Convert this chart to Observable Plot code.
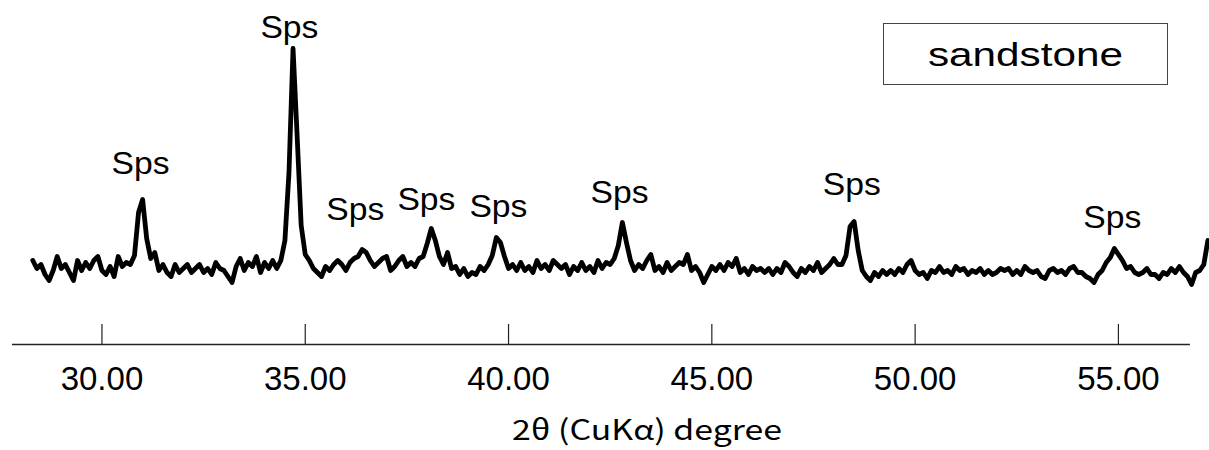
<!DOCTYPE html>
<html><head><meta charset="utf-8">
<script src="https://cdn.jsdelivr.net/npm/d3@7"></script>
<script src="https://cdn.jsdelivr.net/npm/@observablehq/plot@0.6"></script>
<style>
body{margin:0;background:#fff;}
#wrap{position:relative;width:1209px;height:450px;overflow:hidden;}
#legend{position:absolute;left:883px;top:23px;width:285px;height:62px;box-sizing:border-box;border:1.5px solid #444;display:flex;align-items:center;justify-content:center;font-family:"Liberation Sans",Arial,sans-serif;font-size:34px;color:#000;background:#fff;z-index:2;}
#legend span{display:inline-block;transform-origin:center;line-height:1;}
</style></head><body><div id="wrap"></div>
<script>
// ---- data ----
const angleStart = 28.3;   // 2θ of first sample (deg)
const angleStep = 0.1;     // measurement step (deg)
const intensity = [
84,76,80,70,64,74,88,76,80,72,64,84,74,82,76,84,88,74,70,78,
68,88,78,82,80,89,132,145,106,86,92,74,80,72,68,80,72,76,80,72,
76,80,72,76,70,82,76,74,68,62,78,86,74,82,78,88,72,82,76,84,
76,84,104,172,296,209,119,90,84,76,72,68,78,74,80,84,80,74,82,86,
88,95,92,84,78,82,86,88,74,78,84,88,78,82,78,86,88,101,116,104,
88,80,92,76,78,70,76,68,72,70,78,74,80,89,107,102,88,76,80,74,
82,74,78,72,84,76,80,74,84,80,76,80,70,78,74,82,74,78,72,84,
76,82,80,86,99,122,102,84,74,80,76,84,90,74,78,72,82,74,78,82,
80,90,74,78,72,62,70,78,74,80,74,82,78,86,72,76,70,78,74,76,
72,76,70,76,72,82,78,72,68,76,72,78,74,82,72,76,80,86,80,80,
89,118,123,94,74,68,64,72,68,74,70,74,70,76,72,80,84,74,70,72,
66,74,72,78,72,74,70,78,74,76,70,74,72,76,70,74,70,72,76,74,
76,70,74,70,78,74,72,74,68,66,74,76,72,74,70,76,78,72,72,68,
66,62,70,74,82,87,96,90,84,76,78,72,70,72,76,70,70,66,72,70,
76,72,78,72,68,60,72,74,80,104
];
const peakAngles = [30.95, 34.61, 36.23, 37.98, 39.75, 42.73, 48.44, 54.85];
const peakLabelHeights = [180, 316, 134, 144, 137, 151, 159, 126];
const peakLabel = "Sps";
const tickValues = [30, 35, 40, 45, 50, 55];
const axisExtent = [27.8, 56.77];
const xDomain = [27.8, 57.24];
const yDomain = [0, 344];
const xLabel = "2θ (CuKα) degree";
const sampleName = "sandstone";

// ---- build ----
const pattern = intensity.map((v, i) => ({angle: +(angleStart + i * angleStep).toFixed(2), intensity: v}));
const labels = peakAngles.map((a, i) => ({angle: a, h: peakLabelHeights[i], text: peakLabel}));

const chart = Plot.plot({
  width: 1209,
  height: 450,
  marginLeft: 12,
  marginRight: 0,
  marginTop: 0,
  marginBottom: 106,
  style: {fontFamily: "'Liberation Sans', Arial, sans-serif", color: "#000", background: "#fff"},
  x: {domain: xDomain},
  y: {domain: yDomain, axis: null},
  marks: [
    Plot.ruleY([0], {x1: axisExtent[0], x2: axisExtent[1], stroke: "#222", strokeWidth: 1.5}),
    Plot.ruleX(tickValues, {x: d => d, y1: 0, y2: 20, stroke: "#222", strokeWidth: 1.2}),
    Plot.axisX(tickValues, {anchor: "bottom", tickSize: 0, tickPadding: 22, fontSize: 33, tickFormat: d3.format(".2f"), label: null, fill: "#000"}),
    Plot.line(pattern, {x: "angle", y: "intensity", stroke: "#000", strokeWidth: 4.8, strokeLinejoin: "round", strokeLinecap: "round"}),
    Plot.text(labels, {x: "angle", y: "h", text: "text", fontSize: 31, lineAnchor: "middle", fill: "#000"}),
    Plot.text([xLabel], {frameAnchor: "bottom", text: d => d, dx: 36, dy: 87, lineAnchor: "middle", fontSize: 28, fontFamily: "'Noto Sans CJK JP', sans-serif", fill: "#000"})
  ]
});

const wrap = document.getElementById("wrap");
wrap.appendChild(chart);
d3.select(chart).selectAll("text").each(function() {
  const t = this.textContent;
  if (t === peakLabel) { this.setAttribute("textLength", 58); this.setAttribute("lengthAdjust", "spacingAndGlyphs"); }
  if (t === xLabel) { this.setAttribute("textLength", 270); this.setAttribute("lengthAdjust", "spacingAndGlyphs"); }
});

const legend = document.createElement("div");
legend.id = "legend";
const span = document.createElement("span");
span.textContent = sampleName;
legend.appendChild(span);
wrap.appendChild(legend);
const w = span.getBoundingClientRect().width;
span.style.transform = `scaleX(${195 / w})`;
</script>
</body></html>
